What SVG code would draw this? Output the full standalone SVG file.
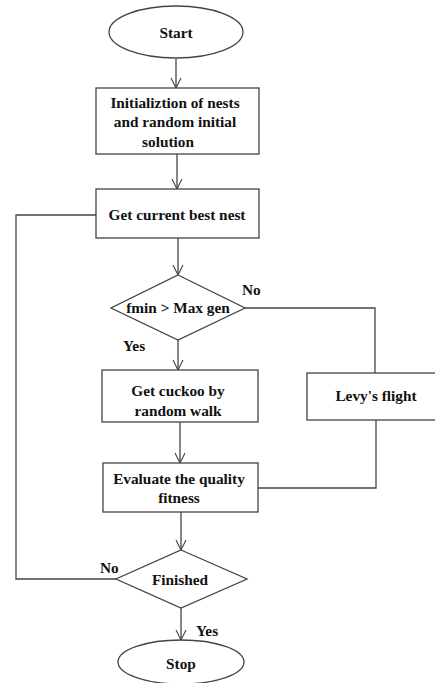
<svg xmlns="http://www.w3.org/2000/svg" width="435" height="683" viewBox="0 0 435 683">
<style>
.s{fill:#fff;stroke:#444;stroke-width:1.3}
.c{fill:none;stroke:#444;stroke-width:1.3}
text{font-family:"Liberation Serif","Times New Roman",serif;font-weight:bold;font-size:15.3px;fill:#111;text-anchor:middle}
.l{text-anchor:start}
</style>
<defs>
<marker id="a" viewBox="0 0 12 12" refX="11" refY="6" markerWidth="12" markerHeight="12" markerUnits="userSpaceOnUse" orient="auto">
<path d="M1,1 L11,6 L1,11" fill="none" stroke="#444" stroke-width="1.1"/>
</marker>
</defs>
<rect width="435" height="683" fill="#fff"/>
<g id="connectors">
<line class="c" x1="176" y1="59" x2="176" y2="88" marker-end="url(#a)"/>
<line class="c" x1="177" y1="154" x2="177" y2="189" marker-end="url(#a)"/>
<line class="c" x1="178" y1="238" x2="178" y2="275" marker-end="url(#a)"/>
<line class="c" x1="178" y1="340" x2="178" y2="370" marker-end="url(#a)"/>
<line class="c" x1="180" y1="422" x2="180" y2="463" marker-end="url(#a)"/>
<line class="c" x1="181" y1="512" x2="181" y2="550" marker-end="url(#a)"/>
<line class="c" x1="181" y1="608" x2="181" y2="640" marker-end="url(#a)"/>
<polyline class="c" points="245,308 375,308 375,373"/>
<polyline class="c" points="376,420 376,488 258,488"/>
<polyline class="c" points="116,579 16,579 16,215 96,215"/>
</g>
<g id="start">
<ellipse class="s" cx="176" cy="32" rx="67" ry="26"/>
<text x="176" y="38">Start</text>
</g>
<g id="init">
<rect class="s" x="96" y="88" width="163" height="66"/>
<text x="175" y="108">Initializtion of nests</text>
<text x="175" y="127">and random initial</text>
<text x="168" y="147">solution</text>
</g>
<g id="best">
<rect class="s" x="96" y="189" width="163" height="49"/>
<text x="177" y="220">Get current best nest</text>
</g>
<g id="cond1">
<polygon class="s" points="178,275 245,308 178,340 111,308"/>
<text x="178" y="313">fmin &gt; Max gen</text>
</g>
<text class="l" x="242" y="295">No</text>
<text class="l" x="123" y="351">Yes</text>
<g id="cuckoo">
<rect class="s" x="102" y="370" width="156" height="52"/>
<text x="178" y="396">Get cuckoo by</text>
<text x="178" y="416">random walk</text>
</g>
<g id="levy">
<rect class="s" x="307" y="373" width="140" height="47"/>
<text x="376" y="401">Levy's flight</text>
</g>
<g id="evaluate">
<rect class="s" x="103" y="463" width="155" height="49"/>
<text x="179" y="484">Evaluate the quality</text>
<text x="179" y="503">fitness</text>
</g>
<g id="finished">
<polygon class="s" points="181,550 247,579 181,608 116,579"/>
<text x="180" y="585">Finished</text>
</g>
<text class="l" x="100" y="573">No</text>
<text class="l" x="196" y="636">Yes</text>
<g id="stop">
<ellipse class="s" cx="181" cy="662" rx="63" ry="22"/>
<text x="181" y="669">Stop</text>
</g>
</svg>
